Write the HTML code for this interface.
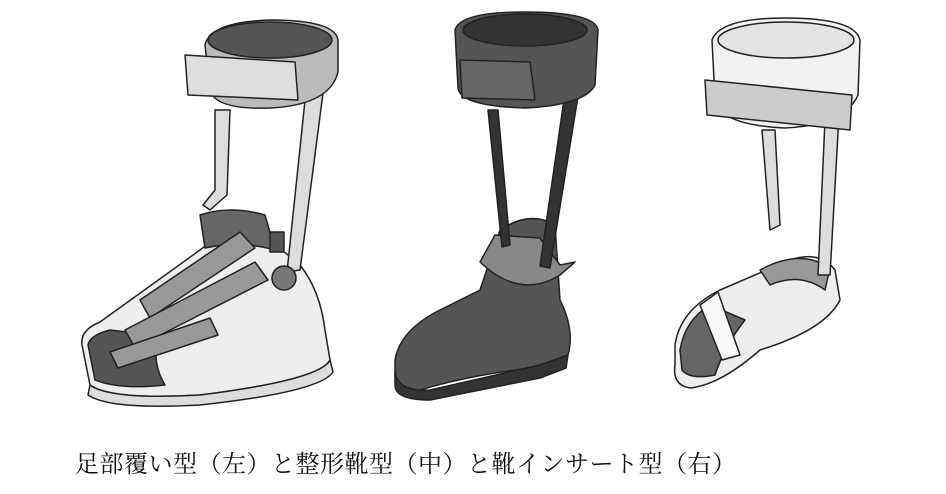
<!DOCTYPE html>
<html><head><meta charset="utf-8"><style>
body{margin:0;background:#fff;width:946px;height:494px;overflow:hidden;position:relative}
svg{position:absolute;left:0;top:0}
.cap{position:absolute;left:75px;top:444px;font:24px "Liberation Serif","Noto Serif CJK SC",serif;color:#111;white-space:nowrap;letter-spacing:0.5px}
</style></head><body>
<svg width="946" height="494" viewBox="0 0 946 494" stroke="#222" stroke-width="1.5" stroke-linejoin="round">
<!-- LEFT -->
<path d="M82 345 Q80 330 100 322 L200 250 Q230 225 270 240 L300 265 Q320 290 325 330 L330 360 Q320 380 200 395 Q110 400 90 385 Z" fill="#eee"/>
<path d="M90 385 Q110 400 200 395 Q320 380 330 360 L333 372 Q320 392 200 405 Q110 410 88 395 Z" fill="#ddd"/>
<path d="M88 345 Q90 335 110 330 L160 336 Q150 360 165 385 Q120 390 95 380 Z" fill="#555"/>
<path d="M200 215 Q230 205 265 215 L275 250 Q240 240 205 248 Z" fill="#666"/>
<path d="M140 300 L240 232 L255 248 L150 318 Z" fill="#999"/>
<path d="M125 330 L255 262 L268 280 L135 348 Z" fill="#999"/>
<path d="M110 352 L210 318 L218 335 L118 368 Z" fill="#999"/>
<path d="M215 110 L230 110 L227 195 L210 210 L203 205 L215 190 Z" fill="#ddd"/>
<path d="M308 72 L326 70 L300 270 L287 272 Z" fill="#ddd"/>
<circle cx="284" cy="278" r="12" fill="#777"/>
<rect x="270" y="232" width="14" height="20" fill="#555"/>
<path d="M205 45 Q210 22 270 20 Q335 20 338 40 L338 72 Q330 105 270 108 Q215 110 210 90 Z" fill="#bbb"/>
<ellipse cx="270" cy="40" rx="62" ry="18" fill="#555"/>
<path d="M185 55 L295 62 L298 100 L188 95 Z" fill="#ddd"/>
<!-- MIDDLE -->
<path d="M395 360 Q400 330 440 310 L480 290 L500 230 Q530 210 555 225 L560 300 Q575 330 568 355 L560 365 Q480 372 420 390 Q395 390 395 375 Z" fill="#555"/>
<path d="M395 372 Q398 392 430 390 L540 365 L568 355 L566 368 L540 378 L430 400 Q395 400 395 385 Z" fill="#333"/>
<path d="M495 235 L540 238 L560 265 L575 262 L560 275 Q520 300 480 262 Z" fill="#888"/>
<path d="M488 110 L498 110 L510 245 L502 247 Z" fill="#333"/>
<path d="M568 72 L582 72 L550 268 L540 266 Z" fill="#333"/>
<path d="M455 30 Q460 12 525 12 Q595 12 598 30 L595 85 Q585 105 525 108 Q460 106 458 88 Z" fill="#555"/>
<ellipse cx="525" cy="30" rx="62" ry="16" fill="#333"/>
<path d="M460 60 L530 62 L535 100 L462 98 Z" fill="#666"/>
<!-- RIGHT -->
<path d="M675 345 Q680 310 720 290 L790 260 Q820 250 835 270 L840 300 Q825 330 760 350 Q720 385 690 388 Q672 385 675 365 Z" fill="#eee"/>
<path d="M680 350 Q685 320 710 305 L745 320 Q725 345 715 375 Q690 380 682 370 Z" fill="#666"/>
<path d="M700 305 L718 292 L740 355 L722 360 Z" fill="#fafafa"/>
<path d="M760 270 Q800 248 830 268 L825 290 Q800 272 770 285 Z" fill="#999"/>
<path d="M762 130 L775 130 L780 225 L770 230 Z" fill="#ddd"/>
<path d="M826 98 L840 98 L830 275 L818 275 Z" fill="#ddd"/>
<path d="M712 40 Q720 18 785 18 Q855 18 860 40 L858 95 Q845 125 785 128 Q720 125 715 100 Z" fill="#f2f2f2"/>
<ellipse cx="786" cy="40" rx="68" ry="18" fill="#e4e4e4"/>
<path d="M705 80 L852 95 L850 130 L707 115 Z" fill="#ccc"/>
</svg>
<div class="cap">足部覆い型（左）と整形靴型（中）と靴インサート型（右）</div>
</body></html>
